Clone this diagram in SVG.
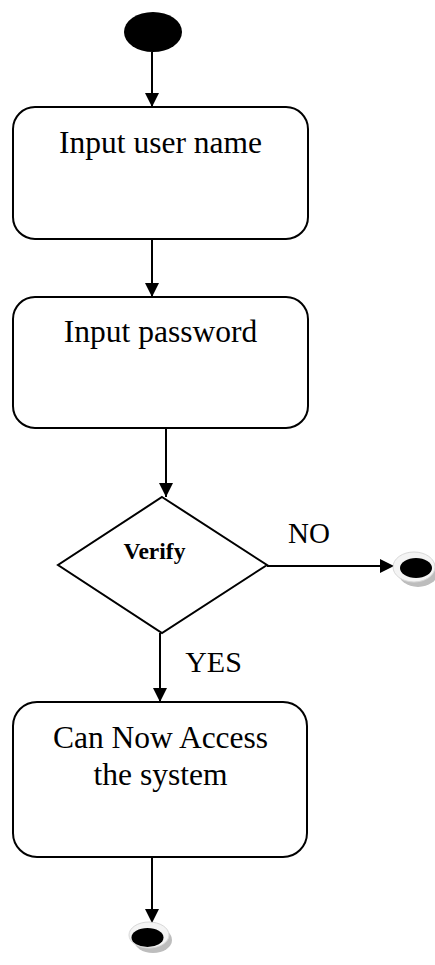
<svg xmlns="http://www.w3.org/2000/svg" width="435" height="965" viewBox="0 0 435 965">
<defs>
<style>
.box{fill:#fff;stroke:#000;stroke-width:2}
.t{font-family:"Liberation Serif","Times New Roman",serif;font-size:31.5px;fill:#000;text-anchor:middle}
.c{stroke:#000;stroke-width:2;fill:none}
.shadow{fill:#bdbdbd}
.ring{fill:#f4f4f4;stroke:#d8d8d8;stroke-width:1}
</style>
<marker id="ah" viewBox="0 0 10 10" refX="10" refY="5" markerWidth="15" markerHeight="14" markerUnits="userSpaceOnUse" orient="auto">
<path d="M0,0 L10,5 L0,10 Z" fill="#000"/>
</marker>
</defs>
<rect width="435" height="965" fill="#fff"/>
<g id="connectors">
<line class="c" x1="152" y1="52" x2="152" y2="107" marker-end="url(#ah)"/>
<line class="c" x1="152" y1="239" x2="152" y2="297" marker-end="url(#ah)"/>
<line class="c" x1="166" y1="428" x2="166" y2="497" marker-end="url(#ah)"/>
<line class="c" x1="267" y1="566" x2="394" y2="566" marker-end="url(#ah)"/>
<line class="c" x1="160" y1="633" x2="160" y2="702" marker-end="url(#ah)"/>
<line class="c" x1="152" y1="857" x2="152" y2="923" marker-end="url(#ah)"/>
</g>
<g id="start">
<ellipse cx="153" cy="32" rx="29" ry="20" fill="#000"/>
</g>
<g id="input-user">
<rect class="box" x="13" y="107" width="295" height="132" rx="22"/>
<text class="t" x="160.5" y="153">Input user name</text>
</g>
<g id="input-password">
<rect class="box" x="13" y="297" width="295" height="131" rx="22"/>
<text class="t" x="160.5" y="342">Input password</text>
</g>
<g id="verify">
<polygon points="162,497 267,565 162,633 58,565" fill="#fff" stroke="#000" stroke-width="2"/>
<text x="154.5" y="559" font-family="Liberation Serif,Times New Roman,serif" font-size="23.5" font-weight="bold" text-anchor="middle">Verify</text>
</g>
<g id="label-no">
<text x="309" y="543" font-family="Liberation Serif,Times New Roman,serif" font-size="29" text-anchor="middle">NO</text>
</g>
<g id="label-yes">
<text x="213.5" y="672" font-family="Liberation Serif,Times New Roman,serif" font-size="30" text-anchor="middle">YES</text>
</g>
<g id="end-no">
<ellipse class="shadow" cx="418" cy="572" rx="20" ry="15"/>
<ellipse class="ring" cx="414" cy="567" rx="21" ry="15"/>
<ellipse cx="416" cy="568" rx="16" ry="10" fill="#000"/>
</g>
<g id="access">
<rect class="box" x="13" y="702" width="294" height="155" rx="24"/>
<text class="t" x="160.5" y="748">Can Now Access</text>
<text class="t" x="160.5" y="785">the system</text>
</g>
<g id="end">
<ellipse class="shadow" cx="153" cy="940" rx="19" ry="13"/>
<ellipse class="ring" cx="149" cy="935" rx="20" ry="13"/>
<ellipse cx="147.5" cy="937.5" rx="16" ry="9.5" fill="#000"/>
</g>
</svg>
